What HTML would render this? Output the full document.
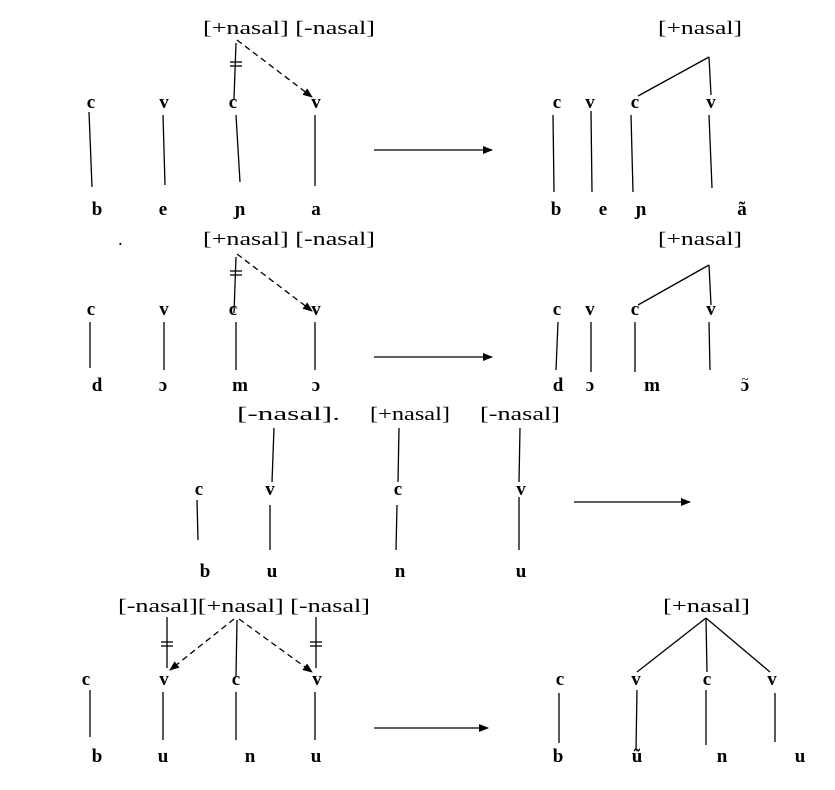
<!DOCTYPE html>
<html><head><meta charset="utf-8"><style>
html,body{margin:0;padding:0;background:#fff;}
svg text{font-family:"Liberation Serif",serif;fill:#000;}
.l{font-size:19px;}
.n{font-size:19px;font-weight:bold;text-anchor:middle;}
</style></head><body>
<svg width="835" height="785" viewBox="0 0 835 785" xmlns="http://www.w3.org/2000/svg">
<defs><marker id="a" markerWidth="10" markerHeight="10" refX="9" refY="5" orient="auto" markerUnits="userSpaceOnUse"><path d="M0,1 L10,5 L0,9 Z" fill="#000"/></marker></defs>
<g stroke="#000" stroke-width="1.3" fill="none">
<line x1="236" y1="43" x2="234" y2="99"/><line x1="230" y1="62" x2="242" y2="62"/><line x1="230" y1="66" x2="242" y2="66"/>
<line x1="237" y1="40" x2="312" y2="97" stroke-dasharray="6,4" marker-end="url(#a)"/>
<line x1="89" y1="112" x2="92" y2="187"/><line x1="163" y1="115" x2="165" y2="185"/><line x1="236" y1="115" x2="240" y2="182"/><line x1="315" y1="115" x2="315" y2="186"/>
<line x1="374" y1="150" x2="492" y2="150" marker-end="url(#a)"/>
<line x1="709" y1="57" x2="638" y2="96"/><line x1="709" y1="57" x2="711" y2="95"/>
<line x1="553" y1="115" x2="554" y2="192"/><line x1="591" y1="111" x2="592" y2="192"/><line x1="631" y1="115" x2="633" y2="192"/><line x1="709" y1="115" x2="712" y2="188"/>
<line x1="236" y1="257" x2="234" y2="313"/><line x1="230" y1="271" x2="242" y2="271"/><line x1="230" y1="275" x2="242" y2="275"/>
<line x1="237" y1="254" x2="312" y2="311" stroke-dasharray="6,4" marker-end="url(#a)"/>
<line x1="90" y1="322" x2="90" y2="368"/><line x1="164" y1="322" x2="164" y2="370"/><line x1="236" y1="322" x2="236" y2="370"/><line x1="315" y1="322" x2="315" y2="370"/>
<line x1="374" y1="357" x2="492" y2="357" marker-end="url(#a)"/>
<line x1="709" y1="265" x2="638" y2="305"/><line x1="709" y1="265" x2="711" y2="305"/>
<line x1="558" y1="322" x2="556" y2="370"/><line x1="591" y1="322" x2="591" y2="372"/><line x1="635" y1="322" x2="635" y2="372"/><line x1="709" y1="322" x2="710" y2="370"/>
<line x1="274" y1="428" x2="272" y2="482"/><line x1="399" y1="428" x2="398" y2="482"/><line x1="520" y1="428" x2="519" y2="482"/>
<line x1="197" y1="500" x2="198" y2="540"/><line x1="270" y1="505" x2="270" y2="550"/><line x1="397" y1="505" x2="396" y2="550"/><line x1="519" y1="497" x2="519" y2="550"/>
<line x1="574" y1="502" x2="690" y2="502" marker-end="url(#a)"/>
<line x1="167" y1="617" x2="167" y2="668"/><line x1="161" y1="642" x2="173" y2="642"/><line x1="161" y1="646" x2="173" y2="646"/>
<line x1="316" y1="617" x2="316" y2="668"/><line x1="310" y1="642" x2="322" y2="642"/><line x1="310" y1="646" x2="322" y2="646"/>
<line x1="237" y1="620" x2="236" y2="676"/>
<line x1="234" y1="619" x2="170" y2="670" stroke-dasharray="6,4" marker-end="url(#a)"/>
<line x1="239" y1="619" x2="312" y2="672" stroke-dasharray="6,4" marker-end="url(#a)"/>
<line x1="90" y1="690" x2="90" y2="737"/><line x1="163" y1="692" x2="163" y2="740"/><line x1="236" y1="692" x2="236" y2="740"/><line x1="315" y1="692" x2="315" y2="740"/>
<line x1="374" y1="728" x2="488" y2="728" marker-end="url(#a)"/>
<line x1="706" y1="618" x2="637" y2="672"/><line x1="706" y1="618" x2="707" y2="672"/><line x1="706" y1="618" x2="770" y2="672"/>
<line x1="559" y1="693" x2="559" y2="743"/><line x1="637" y1="690" x2="636" y2="750"/><line x1="706" y1="690" x2="706" y2="745"/><line x1="775" y1="693" x2="775" y2="742"/>
</g>
<text class="l" x="203" y="34" textLength="172" lengthAdjust="spacingAndGlyphs">[+nasal] [-nasal]</text>
<text class="l" x="658" y="34" textLength="84" lengthAdjust="spacingAndGlyphs">[+nasal]</text>
<text class="l" x="203" y="245" textLength="172" lengthAdjust="spacingAndGlyphs">[+nasal] [-nasal]</text>
<text class="l" x="658" y="245" textLength="84" lengthAdjust="spacingAndGlyphs">[+nasal]</text>
<text class="l" x="118" y="245">.</text>
<text class="l" x="237" y="420" textLength="103" lengthAdjust="spacingAndGlyphs">[-nasal].</text>
<text class="l" x="370" y="420" textLength="80" lengthAdjust="spacingAndGlyphs">[+nasal]</text>
<text class="l" x="480" y="420" textLength="80" lengthAdjust="spacingAndGlyphs">[-nasal]</text>
<text class="l" x="118" y="612" textLength="252" lengthAdjust="spacingAndGlyphs">[-nasal][+nasal] [-nasal]</text>
<text class="l" x="663" y="612" textLength="87" lengthAdjust="spacingAndGlyphs">[+nasal]</text>
<text class="n" x="91" y="108">c</text><text class="n" x="164" y="108">v</text><text class="n" x="233" y="108">c</text><text class="n" x="316" y="108">v</text>
<text class="n" x="97" y="215">b</text><text class="n" x="163" y="215">e</text><text class="n" x="240" y="215">ɲ</text><text class="n" x="316" y="215">a</text>
<text class="n" x="557" y="108">c</text><text class="n" x="590" y="108">v</text><text class="n" x="635" y="108">c</text><text class="n" x="711" y="108">v</text>
<text class="n" x="556" y="215">b</text><text class="n" x="603" y="215">e</text><text class="n" x="641" y="215">ɲ</text><text class="n" x="742" y="215">ã</text>
<text class="n" x="91" y="315">c</text><text class="n" x="164" y="315">v</text><text class="n" x="233" y="315">c</text><text class="n" x="316" y="315">v</text>
<text class="n" x="97" y="391">d</text><text class="n" x="163" y="391">ɔ</text><text class="n" x="240" y="391">m</text><text class="n" x="316" y="391">ɔ</text>
<text class="n" x="557" y="315">c</text><text class="n" x="590" y="315">v</text><text class="n" x="635" y="315">c</text><text class="n" x="711" y="315">v</text>
<text class="n" x="558" y="391">d</text><text class="n" x="590" y="391">ɔ</text><text class="n" x="652" y="391">m</text><text class="n" x="745" y="391">ɔ</text><text class="n" x="745" y="383" style="font-size:13px;font-weight:normal">~</text>
<text class="n" x="199" y="495">c</text><text class="n" x="270" y="495">v</text><text class="n" x="398" y="495">c</text><text class="n" x="521" y="495">v</text>
<text class="n" x="205" y="577">b</text><text class="n" x="272" y="577">u</text><text class="n" x="400" y="577">n</text><text class="n" x="521" y="577">u</text>
<text class="n" x="86" y="685">c</text><text class="n" x="164" y="685">v</text><text class="n" x="236" y="685">c</text><text class="n" x="317" y="685">v</text>
<text class="n" x="97" y="762">b</text><text class="n" x="163" y="762">u</text><text class="n" x="250" y="762">n</text><text class="n" x="316" y="762">u</text>
<text class="n" x="560" y="685">c</text><text class="n" x="636" y="685">v</text><text class="n" x="707" y="685">c</text><text class="n" x="772" y="685">v</text>
<text class="n" x="558" y="762">b</text><text class="n" x="637" y="762">ũ</text><text class="n" x="722" y="762">n</text><text class="n" x="800" y="762">u</text>
</svg>
</body></html>
